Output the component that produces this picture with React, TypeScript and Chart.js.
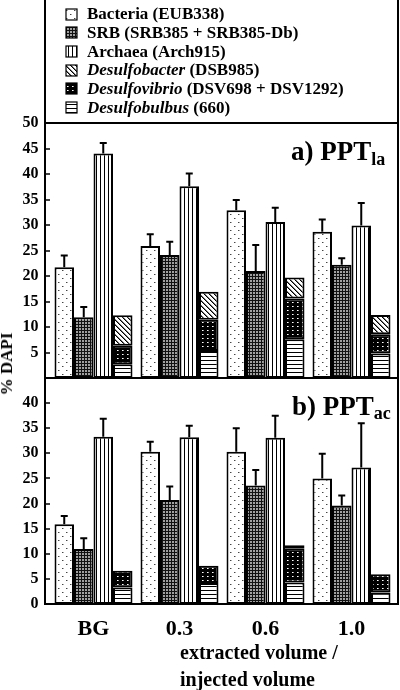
import React, { useEffect, useRef } from 'react';
import { Chart, registerables } from 'chart.js';
Chart.register(...registerables);

const FONT = '"Liberation Serif", "Times New Roman", serif';

const categories = ['BG', '0.3', '0.6', '1.0'];

// a) PPT_la
const bacteriaA = [21.7, 25.9, 32.9, 28.7];
const bacteriaErrA = [2.3, 2.3, 2.0, 2.4];
const srbA = [11.9, 24.1, 21.0, 22.2];
const srbErrA = [2.0, 2.6, 5.1, 1.3];
const archaeaA = [44.0, 37.6, 30.6, 29.9];
const archaeaErrA = [2.1, 2.5, 2.8, 4.4];
const desulfobulbusA = [2.7, 5.3, 7.6, 4.8];
const desulfovibrioA = [3.6, 6.1, 8.0, 3.8];
const desulfobacterA = [6.0, 5.5, 4.1, 3.75];

// b) PPT_ac
const bacteriaB = [15.9, 30.3, 30.3, 25.0];
const bacteriaErrB = [1.6, 2.0, 4.7, 4.9];
const srbB = [10.95, 20.7, 23.6, 19.6];
const srbErrB = [2.15, 2.7, 3.1, 2.0];
const archaeaB = [33.3, 33.2, 33.1, 27.2];
const archaeaErrB = [3.6, 2.3, 4.4, 8.8];
const desulfobulbusB = [3.3, 4.2, 4.3, 2.3];
const desulfovibrioB = [3.3, 3.4, 6.8, 3.6];
const desulfobacterB = [0, 0, 0.6, 0];

const yTicksA = [5, 10, 15, 20, 25, 30, 35, 40, 45, 50];
const yTicksB = [0, 5, 10, 15, 20, 25, 30, 35, 40];

const legendItalic = ['', '', '', 'Desulfobacter', 'Desulfovibrio', 'Desulfobulbus'];
const legendRest = ['Bacteria (EUB338)', 'SRB (SRB385 + SRB385-Db)', 'Archaea (Arch915)', ' (DSB985)', ' (DSV698 + DSV1292)', ' (660)'];
const legendPattern = ['dots', 'mesh', 'vlines', 'diag', 'blackdots', 'hlines'];

const axisTitleLines = ['extracted volume /', 'injected volume'];

const FRAME_LEFT = 45;
const FRAME_RIGHT = 398;

function makePattern(kind: string): CanvasPattern | string {
  const c = document.createElement('canvas');
  const g = c.getContext('2d')!;
  if (kind === 'dots') {
    c.width = 8; c.height = 8;
    g.fillStyle = '#fff'; g.fillRect(0, 0, 8, 8);
    g.fillStyle = '#444';
    g.fillRect(2, 2, 1, 1); g.fillRect(6, 6, 1, 1);
    g.fillStyle = '#aaa';
    g.fillRect(3, 2, 1, 1); g.fillRect(7, 6, 1, 1);
  } else if (kind === 'mesh') {
    c.width = 3; c.height = 3;
    g.fillStyle = '#111'; g.fillRect(0, 0, 3, 3);
    g.fillStyle = '#a0a0a0'; g.fillRect(1, 1, 2, 2);
  } else if (kind === 'vlines') {
    c.width = 4; c.height = 4;
    g.fillStyle = '#fff'; g.fillRect(0, 0, 4, 4);
    g.fillStyle = '#000'; g.fillRect(0, 0, 1, 4);
  } else if (kind === 'hlines') {
    c.width = 4; c.height = 4;
    g.fillStyle = '#fff'; g.fillRect(0, 0, 4, 4);
    g.fillStyle = '#000'; g.fillRect(0, 0, 4, 1);
  } else if (kind === 'diag') {
    c.width = 5; c.height = 5;
    g.fillStyle = '#fff'; g.fillRect(0, 0, 5, 5);
    g.fillStyle = '#000';
    for (let i = 0; i < 5; i++) g.fillRect(i, i, 1, 1);
    g.fillStyle = '#777';
    for (let i = 0; i < 5; i++) g.fillRect((i + 1) % 5, i, 1, 1);
  } else if (kind === 'blackdots') {
    c.width = 5; c.height = 4;
    g.fillStyle = '#000'; g.fillRect(0, 0, 5, 4);
    g.fillStyle = '#fff'; g.fillRect(2, 2, 1, 1);
    g.fillStyle = '#999'; g.fillRect(3, 2, 1, 1);
  }
  return g.createPattern(c, 'repeat') || '#888';
}

type PanelProps = {
  which: 'a' | 'b';
  top: number;
  height: number;
};

function Panel({ which, top, height }: PanelProps) {
  const ref = useRef<HTMLCanvasElement>(null);
  useEffect(() => {
    const canvas = ref.current!;
    const isA = which === 'a';
    const vals = isA
      ? [bacteriaA, srbA, archaeaA, desulfobulbusA, desulfovibrioA, desulfobacterA]
      : [bacteriaB, srbB, archaeaB, desulfobulbusB, desulfovibrioB, desulfobacterB];
    const errs = isA
      ? [bacteriaErrA, srbErrA, archaeaErrA, null, null, null]
      : [bacteriaErrB, srbErrB, archaeaErrB, null, null, null];
    const names = ['Bacteria', 'SRB', 'Archaea', 'Desulfobulbus', 'Desulfovibrio', 'Desulfobacter'];
    const pats = ['dots', 'mesh', 'vlines', 'hlines', 'blackdots', 'diag'];
    const stacks = ['a', 'b', 'c', 'd', 'd', 'd'];
    const tickVals = isA ? yTicksA : yTicksB;

    const datasets = vals.map((v, i) => ({
      label: names[i],
      data: v,
      stack: stacks[i],
      backgroundColor: makePattern(pats[i]) as any,
      borderColor: '#000',
      borderWidth: 2,
      borderSkipped: false as any,
      barPercentage: 1.0,
      categoryPercentage: 0.907,
    }));

    const overlay = {
      id: 'overlay' + which,
      afterDatasetsDraw(chart: any) {
        const { ctx, scales } = chart;
        const y = scales.y;
        ctx.save();
        ctx.strokeStyle = '#000';
        ctx.lineWidth = 2;
        errs.forEach((e, di) => {
          if (!e) return;
          const meta = chart.getDatasetMeta(di);
          meta.data.forEach((bar: any, i: number) => {
            const v = vals[di][i];
            const y0 = y.getPixelForValue(v);
            const y1 = y.getPixelForValue(v + e[i]);
            ctx.beginPath();
            ctx.moveTo(bar.x, y0);
            ctx.lineTo(bar.x, y1);
            ctx.moveTo(bar.x - 3.5, y1);
            ctx.lineTo(bar.x + 3.5, y1);
            ctx.stroke();
          });
        });
        ctx.restore();
      },
      afterDraw(chart: any) {
        const { ctx, chartArea, scales } = chart;
        const y = scales.y;
        ctx.save();
        ctx.strokeStyle = '#000';
        ctx.lineWidth = 2;
        ctx.strokeRect(FRAME_LEFT, chartArea.top, FRAME_RIGHT - FRAME_LEFT, chartArea.bottom - chartArea.top);
        // inward ticks
        ctx.lineWidth = 1.5;
        tickVals.forEach((t) => {
          const py = Math.round(y.getPixelForValue(t));
          ctx.beginPath();
          ctx.moveTo(FRAME_LEFT, py);
          ctx.lineTo(FRAME_LEFT + 5, py);
          ctx.stroke();
        });
        // panel label
        ctx.fillStyle = '#000';
        ctx.textAlign = 'left';
        ctx.textBaseline = 'alphabetic';
        const main = isA ? 'a) PPT' : 'b) PPT';
        const sub = isA ? 'la' : 'ac';
        const lx = isA ? 291 : 292;
        const by = isA ? 160 : 37;
        ctx.font = 'bold 27px ' + FONT;
        ctx.fillText(main, lx, by);
        const w = ctx.measureText(main).width;
        ctx.font = 'bold 18px ' + FONT;
        ctx.fillText(sub, lx + w, by + (isA ? 5 : 4));

        if (isA) {
          // legend box
          ctx.lineWidth = 2;
          ctx.strokeRect(FRAME_LEFT, -2, FRAME_RIGHT - FRAME_LEFT, chartArea.top + 2);
          legendRest.forEach((rest, i) => {
            const cy = 14 + i * 18.7;
            const sx = 66, sw = 11;
            ctx.fillStyle = makePattern(legendPattern[i]) as any;
            ctx.fillRect(sx, Math.round(cy - sw / 2), sw, sw);
            ctx.lineWidth = 1.2;
            ctx.strokeRect(sx, Math.round(cy - sw / 2), sw, sw);
            ctx.fillStyle = '#000';
            ctx.textBaseline = 'middle';
            let tx = 87;
            if (legendItalic[i]) {
              ctx.font = 'italic bold 17px ' + FONT;
              ctx.fillText(legendItalic[i], tx, cy + 1);
              tx += ctx.measureText(legendItalic[i]).width;
            }
            ctx.font = 'bold 17px ' + FONT;
            ctx.fillText(rest, tx, cy + 1);
          });
        } else {
          ctx.font = 'bold 20px ' + FONT;
          ctx.textBaseline = 'alphabetic';
          ctx.fillText(axisTitleLines[0], 180, 281);
          ctx.fillText(axisTitleLines[1], 180, 308);
        }
        ctx.restore();
      },
    };

    const chart = new Chart(canvas, {
      type: 'bar',
      data: { labels: categories, datasets: datasets as any },
      options: {
        responsive: false,
        animation: false,
        devicePixelRatio: 1,
        layout: { padding: { top: isA ? 123 : 0, right: 5.5, left: 5.5, bottom: 0 } },
        plugins: { legend: { display: false }, tooltip: { enabled: false }, title: { display: false } },
        scales: {
          x: {
            stacked: true,
            grid: { display: false, drawTicks: false },
            border: { display: false },
            ticks: {
              display: !isA,
              color: '#000',
              font: { family: FONT, size: 22, weight: 'bold' },
              padding: 12,
              maxRotation: 0,
            },
            afterFit: (s: any) => {
              s.height = isA ? 2 : 86;
              s.paddingLeft = 0; s.paddingRight = 0; s.paddingTop = 0; s.paddingBottom = 0;
            },
          } as any,
          y: {
            stacked: true,
            min: 0,
            max: isA ? 50 : 45,
            grid: { display: false, drawTicks: false },
            border: { display: false },
            ticks: {
              stepSize: 5,
              color: '#000',
              font: { family: FONT, size: 16, weight: 'bold' },
              padding: 12,
            },
            afterBuildTicks: (axis: any) => {
              axis.ticks = tickVals.map((v) => ({ value: v }));
            },
            afterFit: (s: any) => {
              s.width = 45;
              s.paddingTop = 0; s.paddingBottom = 0; s.paddingLeft = 0; s.paddingRight = 0;
            },
          } as any,
        },
      },
      plugins: [overlay],
    });
    return () => chart.destroy();
  }, [which]);
  return (
    <canvas
      ref={ref}
      width={400}
      height={height}
      style={{ position: 'absolute', left: 0, top, width: 400, height }}
    />
  );
}

export default function App() {
  return (
    <div style={{ position: 'absolute', left: 0, top: 0, width: 400, height: 690, background: '#fff', overflow: 'hidden' }}>
      <Panel which="a" top={0} height={380} />
      <Panel which="b" top={378} height={312} />
      <div
        style={{
          position: 'absolute',
          left: 7,
          top: 364,
          transform: 'translate(-50%, -50%) rotate(-90deg)',
          font: 'bold 17px ' + FONT,
          whiteSpace: 'nowrap',
          color: '#000',
        }}
      >
        % DAPI
      </div>
    </div>
  );
}
